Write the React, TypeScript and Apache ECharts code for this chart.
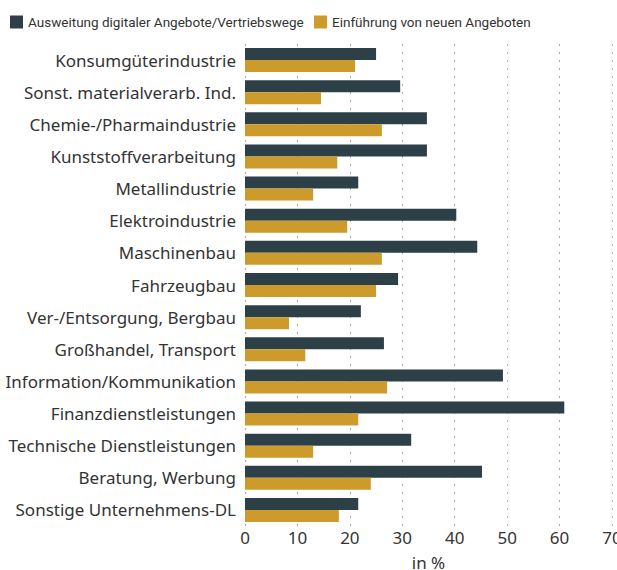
import React, { useEffect, useRef } from "react";
import * as echarts from "echarts";

const categories = [
  "Konsumgüterindustrie",
  "Sonst. materialverarb. Ind.",
  "Chemie-/Pharmaindustrie",
  "Kunststoffverarbeitung",
  "Metallindustrie",
  "Elektroindustrie",
  "Maschinenbau",
  "Fahrzeugbau",
  "Ver-/Entsorgung, Bergbau",
  "Großhandel, Transport",
  "Information/Kommunikation",
  "Finanzdienstleistungen",
  "Technische Dienstleistungen",
  "Beratung, Werbung",
  "Sonstige Unternehmens-DL",
];

const seriesNames = [
  "Ausweitung digitaler Angebote/Vertriebswege",
  "Einführung von neuen Angeboten",
];

const digitalValues = [25.0, 29.6, 34.7, 34.7, 21.6, 40.3, 44.3, 29.2, 22.1, 26.5, 49.2, 60.9, 31.7, 45.2, 21.6];
const newOfferValues = [21.0, 14.5, 26.1, 17.6, 13.0, 19.5, 26.1, 25.0, 8.4, 11.5, 27.1, 21.6, 13.0, 24.0, 17.9];

const xTicks = [0, 10, 20, 30, 40, 50, 60, 70];

const DARK = "#2e4047";
const GOLD = "#cd9a2c";
const FONT = "Noto Sans";

export default function App() {
  const ref = useRef<HTMLDivElement>(null);
  useEffect(() => {
    document.body.style.margin = "0";
    if (!ref.current) return;
    const chart = echarts.init(ref.current, undefined, { renderer: "svg" });
    const legendCommon = {
      top: 10,
      itemWidth: 13,
      itemHeight: 13,
      itemGap: 5,
      icon: "rect",
      textStyle: { fontFamily: "Roboto", fontSize: 13.5, color: "#333" },
    };
    chart.setOption({
      animation: false,
      textStyle: { fontFamily: FONT },
      legend: [
        { ...legendCommon, left: 5, data: [seriesNames[0]] },
        { ...legendCommon, left: 309, data: [seriesNames[1]] },
      ],
      grid: {
        left: 245,
        right: 5,
        top: 44,
        bottom: 44,
        containLabel: false,
        outerBoundsMode: "none",
      },
      xAxis: {
        type: "value",
        min: xTicks[0],
        max: xTicks[xTicks.length - 1],
        interval: 10,
        name: "in %",
        nameLocation: "middle",
        nameGap: 28,
        nameTextStyle: { fontFamily: FONT, fontSize: 17, color: "#333" },
        axisLine: { show: false },
        axisTick: { show: false },
        axisLabel: { fontFamily: FONT, fontSize: 17, color: "#333", margin: 3 },
        splitLine: {
          show: true,
          lineStyle: { color: "#aaa", type: [2, 6], width: 1 },
        },
      },
      yAxis: {
        type: "category",
        data: categories,
        inverse: true,
        axisLine: { show: false },
        axisTick: { show: false },
        axisLabel: { fontFamily: FONT, fontSize: 17, color: "#333", margin: 9 },
      },
      series: [
        {
          name: seriesNames[0],
          type: "bar",
          data: digitalValues,
          barWidth: 12,
          barGap: "0%",
          itemStyle: { color: DARK },
        },
        {
          name: seriesNames[1],
          type: "bar",
          data: newOfferValues,
          barWidth: 12,
          barGap: "0%",
          itemStyle: { color: GOLD },
        },
      ],
    });
    return () => chart.dispose();
  }, []);
  return <div ref={ref} style={{ width: 617, height: 570 }} />;
}
